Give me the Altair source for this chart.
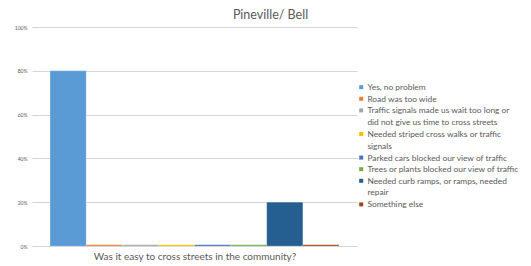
import altair as alt
import pandas as pd

categories = [
    "Yes, no problem",
    "Road was too wide",
    "Traffic signals made us wait too long or|did not give us time to cross streets",
    "Needed striped cross walks or traffic|signals",
    "Parked cars blocked our view of traffic",
    "Trees or plants blocked our view of traffic",
    "Needed curb ramps, or ramps, needed|repair",
    "Something else",
]
values = [0.80, 0.006, 0.006, 0.006, 0.006, 0.006, 0.20, 0.006]
colors = ["#5B9BD5", "#ED7D31", "#A5A5A5", "#FFC000", "#4472C4", "#70AD47", "#255E91", "#9E480E"]
y_ticks = [0, 0.2, 0.4, 0.6, 0.8, 1.0]

df = pd.DataFrame({"cat": categories, "value": values})

FONT = "Lato"

chart = alt.Chart(df).mark_bar(stroke="#ffffff", strokeWidth=0.3, strokeOpacity=0.6).encode(
    x=alt.X(
        "cat:N",
        sort=categories,
        scale=alt.Scale(paddingInner=0, paddingOuter=0.5),
        axis=alt.Axis(
            labels=False, ticks=False, domain=False, grid=False,
            title="Was it easy to cross streets in the community?",
            titleFont=FONT, titleFontSize=10, titleFontWeight="normal",
            titleColor="#595959", titlePadding=5,
        ),
    ),
    y=alt.Y(
        "value:Q",
        scale=alt.Scale(domain=[0, 1]),
        axis=alt.Axis(
            values=y_ticks, format=".0%", title=None,
            domain=False, ticks=False, labelFontSize=5, labelFont=FONT,
            labelColor="#595959", labelPadding=5,
            gridColor="#d4d4d4", gridWidth=1.2,
        ),
    ),
    color=alt.Color(
        "cat:N",
        sort=categories,
        scale=alt.Scale(domain=categories, range=colors),
        legend=alt.Legend(
            title=None, orient="none", legendX=325, legendY=56,
            symbolType="square", symbolSize=16, symbolStrokeWidth=0,
            labelFont=FONT, labelFontSize=8.4, labelColor="#595959",
            labelExpr="split(datum.label, '|')", labelLimit=200,
            labelOffset=2, rowPadding=2.6, padding=0,
        ),
    ),
).properties(
    width=325,
    height=219,
    title=alt.TitleParams(
        "Pineville/ Bell", font=FONT, fontSize=12.5, fontWeight="normal",
        color="#595959", anchor="middle", dx=76, offset=4,
    ),
    autosize=alt.AutoSizeParams(type="none"),
    padding={"left": 24, "top": 19, "right": 166, "bottom": 20},
).configure(
    view=alt.ViewConfig(stroke=None),
    style={"guide-label": {"lineHeight": 11.5}},
)

chart.save("out.html", embed_options={"renderer": "svg", "actions": False})
